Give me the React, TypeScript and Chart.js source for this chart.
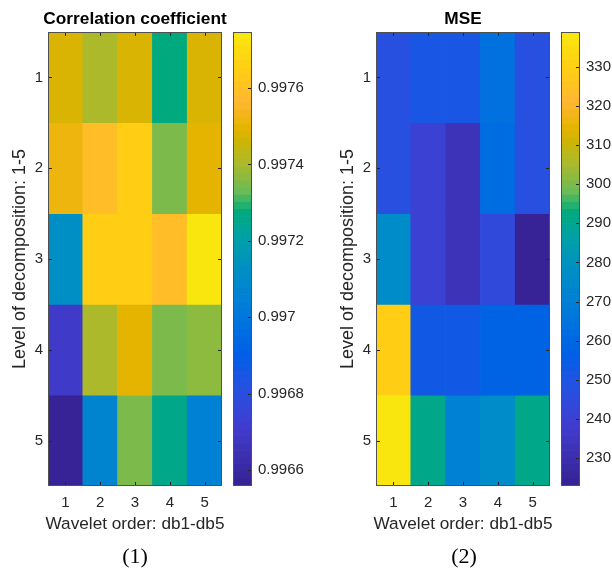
import React, { useEffect, useRef } from 'react';
import { Chart, registerables } from 'chart.js';

Chart.register(...registerables);

// ---------------- data ----------------
const X_LABELS = ['1', '2', '3', '4', '5'];
const Y_LEVELS = [1, 2, 3, 4, 5];

// Correlation coefficient, rows = level of decomposition 1..5, cols = db1..db5
const CORR_L1 = [0.99747, 0.99741, 0.99748, 0.99727, 0.99748];
const CORR_L2 = [0.99752, 0.99758, 0.99764, 0.99734, 0.99749];
const CORR_L3 = [0.99712, 0.99764, 0.99765, 0.99758, 0.997747];
const CORR_L4 = [0.99670, 0.99741, 0.9975, 0.99734, 0.99737];
const CORR_L5 = [0.996558, 0.99706, 0.99735, 0.99725, 0.99705];

// MSE
const MSE_L1 = [248, 251, 251, 264, 248];
const MSE_L2 = [248, 240, 233, 261, 248];
const MSE_L3 = [277, 240, 233, 243, 222.8];
const MSE_L4 = [328.5, 253, 253, 259, 258];
const MSE_L5 = [338.95, 291, 270, 276, 291];

const CORR_TICKS = [0.9966, 0.9968, 0.997, 0.9972, 0.9974, 0.9976];
const MSE_TICKS = [230, 240, 250, 260, 270, 280, 290, 300, 310, 320, 330];

const CORR_TITLE = 'Correlation coefficient';
const MSE_TITLE = 'MSE';
const X_TITLE = 'Wavelet order: db1-db5';
const Y_TITLE = 'Level of decomposition: 1-5';

// parula-like colormap stops [t, r, g, b]
const CMAP_STOPS: number[][] = [
  [0.0, 55, 35, 150],
  [0.123, 65, 60, 205],
  [0.205, 40, 80, 225],
  [0.289, 0, 95, 230],
  [0.372, 0, 120, 220],
  [0.465, 0, 140, 200],
  [0.542, 0, 160, 170],
  [0.604, 0, 170, 125],
  [0.652, 110, 188, 85],
  [0.718, 175, 185, 40],
  [0.762, 205, 180, 5],
  [0.795, 230, 180, 0],
  [0.85, 255, 182, 50],
  [0.92, 255, 205, 20],
  [1.0, 250, 230, 15],
];
const NCOLORS = 64;

const FONT = "'Liberation Sans', Arial, Helvetica, sans-serif";
const TEXT = '#262626';

function cmap(t: number): string {
  t = Math.max(0, Math.min(1, t));
  for (let i = 1; i < CMAP_STOPS.length; i++) {
    const a = CMAP_STOPS[i - 1];
    const b = CMAP_STOPS[i];
    if (t <= b[0]) {
      const f = (t - a[0]) / (b[0] - a[0]);
      const r = Math.round(a[1] + (b[1] - a[1]) * f);
      const g = Math.round(a[2] + (b[2] - a[2]) * f);
      const bl = Math.round(a[3] + (b[3] - a[3]) * f);
      return `rgb(${r},${g},${bl})`;
    }
  }
  const l = CMAP_STOPS[CMAP_STOPS.length - 1];
  return `rgb(${l[1]},${l[2]},${l[3]})`;
}

function indexColor(v: number, min: number, max: number): string {
  const idx = Math.min(NCOLORS - 1, Math.max(0, Math.floor(((v - min) / (max - min)) * NCOLORS)));
  return cmap(idx / (NCOLORS - 1));
}

const heatFrame = {
  id: 'heatFrame',
  afterDatasetsDraw(chart: any) {
    const { ctx, chartArea: a, scales } = chart;
    const x = scales.x;
    const y = scales.y;
    const L = 4;
    ctx.save();
    ctx.strokeStyle = TEXT;
    ctx.lineWidth = 1;
    ctx.beginPath();
    x.ticks.forEach((_: any, i: number) => {
      const px = Math.round(x.getPixelForTick(i)) + 0.5;
      ctx.moveTo(px, a.top);
      ctx.lineTo(px, a.top + L);
      ctx.moveTo(px, a.bottom);
      ctx.lineTo(px, a.bottom - L);
    });
    y.ticks.forEach((t: any) => {
      const py = Math.round(y.getPixelForValue(t.value)) + 0.5;
      ctx.moveTo(a.left, py);
      ctx.lineTo(a.left + L, py);
      ctx.moveTo(a.right, py);
      ctx.lineTo(a.right - L, py);
    });
    ctx.stroke();
    ctx.strokeStyle = '#505050';
    ctx.strokeRect(Math.round(a.left) + 0.5, Math.round(a.top) + 0.5, Math.round(a.width) - 1, Math.round(a.height) - 1);
    ctx.restore();
  },
};

// x-axis label drawn centred under the plot without width compression
const xLabel = {
  id: 'xLabel',
  afterDraw(chart: any, _args: any, opts: any) {
    const { ctx, chartArea: a, scales } = chart;
    const x = scales.x;
    ctx.save();
    ctx.fillStyle = TEXT;
    ctx.font = `17.2px ${FONT}`;
    ctx.textAlign = 'center';
    ctx.textBaseline = 'middle';
    ctx.fillText(opts.text, (a.left + a.right) / 2, x.bottom - opts.offset);
    ctx.restore();
  },
};

const barFrame = {
  id: 'barFrame',
  afterDatasetsDraw(chart: any) {
    const { ctx, chartArea: a, scales } = chart;
    const y = scales.y;
    const L = 4;
    ctx.save();
    ctx.strokeStyle = TEXT;
    ctx.lineWidth = 1;
    ctx.beginPath();
    y.ticks.forEach((t: any) => {
      const py = Math.round(y.getPixelForValue(t.value)) + 0.5;
      ctx.moveTo(a.right, py);
      ctx.lineTo(a.right - L, py);
    });
    ctx.stroke();
    ctx.strokeStyle = '#505050';
    ctx.strokeRect(Math.round(a.left) + 0.5, Math.round(a.top) + 0.5, Math.round(a.width) - 1, Math.round(a.height) - 1);
    ctx.restore();
  },
};

const HEAT_W = 270;

function heatConfig(title: string, rows: number[][]): any {
  const all = rows.flat();
  const min = Math.min(...all);
  const max = Math.max(...all);
  return {
    type: 'bar',
    data: {
      labels: X_LABELS,
      datasets: rows.map((vals, r) => ({
        data: vals.map(() => [Y_LEVELS[r] - 0.5, Y_LEVELS[r] + 0.5]),
        backgroundColor: vals.map((v) => indexColor(v, min, max)),
        grouped: false,
        barPercentage: 1,
        categoryPercentage: 1,
        borderWidth: 0,
        borderSkipped: false,
      })),
    },
    options: {
      animation: false,
      responsive: false,
      maintainAspectRatio: false,
      layout: { padding: { left: 0, right: 0, top: 0, bottom: 30 } },
      plugins: {
        legend: { display: false },
        tooltip: { enabled: false },
        title: {
          display: true,
          text: title,
          fullSize: true,
          color: '#000',
          font: { family: FONT, size: 17.3, weight: 'bold' },
          padding: { top: 9.2, bottom: 2 },
        },
        xLabel: { text: X_TITLE, offset: 21.5 },
      },
      scales: {
        x: {
          type: 'category',
          grid: { display: false, drawTicks: false },
          border: { display: false },
          ticks: { color: TEXT, font: { family: FONT, size: 15 }, padding: 8, maxRotation: 0 },
          afterFit: (s: any) => {
            s.height = 60;
          },
        },
        y: {
          type: 'linear',
          min: Y_LEVELS[0] - 0.5,
          max: Y_LEVELS[Y_LEVELS.length - 1] + 0.5,
          reverse: true,
          grid: { display: false, drawTicks: false },
          border: { display: false },
          afterBuildTicks: (s: any) => {
            s.ticks = Y_LEVELS.map((v) => ({ value: v }));
          },
          ticks: { color: TEXT, font: { family: FONT, size: 15 }, padding: 5 },
          title: {
            display: true,
            text: Y_TITLE,
            color: TEXT,
            font: { family: FONT, size: 18 },
            padding: { top: 9.2, bottom: 0 },
          },
          afterFit: (s: any) => {
            s.width = 48;
          },
        },
        // empty right-hand spacer axis so the plot is centred in the canvas
        yRight: {
          type: 'linear',
          position: 'right',
          min: 0,
          max: 1,
          grid: { display: false, drawTicks: false },
          border: { display: false },
          ticks: { display: false },
          afterFit: (s: any) => {
            s.width = 48;
          },
        },
      },
    },
    plugins: [heatFrame, xLabel],
  };
}

function barConfig(rows: number[][], ticks: number[], canvasWidth: number): any {
  const all = rows.flat();
  const min = Math.min(...all);
  const max = Math.max(...all);
  const step = (max - min) / NCOLORS;
  const segs = Array.from({ length: NCOLORS }, (_, i) => i);
  return {
    type: 'bar',
    data: {
      labels: [''],
      datasets: segs.map((i) => ({
        data: [[min + i * step, min + (i + 1) * step]],
        backgroundColor: cmap(i / (NCOLORS - 1)),
        grouped: false,
        barPercentage: 1,
        categoryPercentage: 1,
        borderWidth: 0,
        borderSkipped: false,
      })),
    },
    options: {
      animation: false,
      responsive: false,
      maintainAspectRatio: false,
      layout: { padding: { left: 8, right: 0, top: 32, bottom: 90 } },
      plugins: { legend: { display: false }, tooltip: { enabled: false }, title: { display: false } },
      scales: {
        x: { display: false },
        y: {
          type: 'linear',
          position: 'right',
          min,
          max,
          grid: { display: false, drawTicks: false },
          border: { display: false },
          afterBuildTicks: (s: any) => {
            s.ticks = ticks.map((v) => ({ value: v }));
          },
          ticks: {
            color: TEXT,
            font: { family: FONT, size: 15 },
            padding: 6,
            callback: (v: any) => String(Number(Number(v).toFixed(4))),
          },
          afterFit: (s: any) => {
            s.width = canvasWidth - 8 - 19;
          },
        },
      },
    },
    plugins: [barFrame],
  };
}

function ChartBox(props: { left: number; width: number; make: () => any }) {
  const ref = useRef<HTMLCanvasElement | null>(null);
  useEffect(() => {
    if (!ref.current) return;
    const chart = new Chart(ref.current, props.make());
    return () => chart.destroy();
  }, []);
  return (
    <canvas
      ref={ref}
      width={props.width}
      height={576}
      style={{ position: 'absolute', left: props.left, top: 0, width: props.width, height: 576 }}
    />
  );
}

const CORR_ROWS = [CORR_L1, CORR_L2, CORR_L3, CORR_L4, CORR_L5];
const MSE_ROWS = [MSE_L1, MSE_L2, MSE_L3, MSE_L4, MSE_L5];

export default function App() {
  const captionStyle: React.CSSProperties = {
    position: 'absolute',
    top: 545,
    width: 80,
    textAlign: 'center',
    fontFamily: "'Liberation Serif', 'Times New Roman', serif",
    fontSize: 22,
    lineHeight: '22px',
    color: '#000',
  };
  return (
    <div style={{ position: 'fixed', left: 0, top: 0, width: 612, height: 576, background: '#fff', overflow: 'hidden' }}>
      <ChartBox left={0} width={HEAT_W} make={() => heatConfig(CORR_TITLE, CORR_ROWS)} />
      <ChartBox left={225} width={87} make={() => barConfig(CORR_ROWS, CORR_TICKS, 87)} />
      <ChartBox left={328} width={HEAT_W} make={() => heatConfig(MSE_TITLE, MSE_ROWS)} />
      <ChartBox left={553} width={59} make={() => barConfig(MSE_ROWS, MSE_TICKS, 59)} />
      <div style={{ ...captionStyle, left: 135 - 40 }}>(1)</div>
      <div style={{ ...captionStyle, left: 464 - 40 }}>(2)</div>
    </div>
  );
}
